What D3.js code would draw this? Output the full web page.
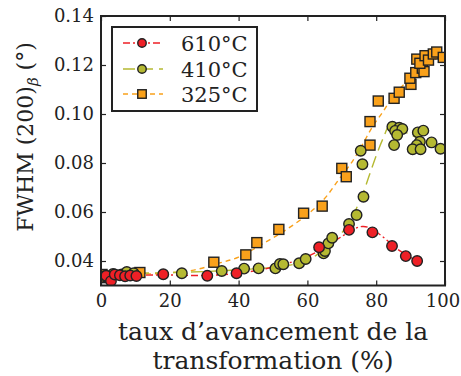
<!DOCTYPE html>
<html>
<head>
<meta charset="utf-8">
<script src="https://cdn.jsdelivr.net/npm/d3@7"></script>
<style>
  html, body { margin: 0; padding: 0; background: #fff; }
  svg { display: block; }
  text { font-family: "DejaVu Serif", "Liberation Serif", serif; fill: #222; }
</style>
</head>
<body>
<svg id="chart" width="461" height="376"></svg>
<script>
// ---- data ----
const xTicks = [0, 20, 40, 60, 80, 100];
const yTicks = [0.04, 0.06, 0.08, 0.10, 0.12, 0.14];
const seriesNames = ["610°C", "410°C", "325°C"];

// 610°C points
const x610 = [1.5, 2.9, 4.0, 5.5, 7.0, 8.5, 10.3, 18.1, 30.9, 39.4, 63.4, 72.1, 78.9, 84.6, 88.6, 91.9];
const y610 = [0.0340, 0.0318, 0.0345, 0.0342, 0.0338, 0.0341, 0.0339, 0.0346, 0.0340, 0.0350, 0.0456, 0.0527, 0.0517, 0.0461, 0.0420, 0.0400];
// 410°C points
const x410 = [1.0, 3.5, 6.0, 7.5, 9.5, 23.5, 35.1, 41.6, 45.8, 50.7, 52.0, 53.0, 57.6, 59.5, 64.7, 65.1, 66.1, 67.2, 72.1, 74.3, 76.3, 76.0, 75.5,
              84.7, 86.7, 85.5, 87.6, 86.1, 85.2, 92.1, 93.7, 92.7, 96.1, 91.8, 90.6, 92.9, 98.7];
const y410 = [0.0338, 0.0347, 0.0345, 0.0355, 0.0350, 0.0350, 0.0359, 0.0369, 0.0370, 0.0370, 0.0388, 0.0387, 0.0391, 0.0408, 0.0431, 0.0441, 0.0472, 0.0495, 0.0551, 0.0588, 0.0662, 0.0795, 0.0850,
              0.0948, 0.0944, 0.0931, 0.0939, 0.0914, 0.0873, 0.0925, 0.0932, 0.0887, 0.0884, 0.0873, 0.0856, 0.0856, 0.0858];
// 325°C points
const x325 = [0.3, 0.3, 11.3, 32.8, 42.1, 45.3, 51.7, 58.9, 64.3, 70.0, 71.3, 78.2, 78.2, 80.6, 85.2, 86.7, 90.1, 89.8, 91.5, 93.4, 93.9,
              91.8, 92.7, 94.2, 95.2, 96.6, 97.6, 99.5];
const y325 = [0.0345, 0.0332, 0.0353, 0.0395, 0.0425, 0.0475, 0.0529, 0.0595, 0.0624, 0.0778, 0.0744, 0.0873, 0.0969, 0.1053, 0.1064, 0.1089, 0.1121, 0.1146, 0.1169, 0.1187, 0.1173,
              0.1224, 0.1207, 0.1238, 0.1220, 0.1245, 0.1253, 0.1231];

// fitted guide curves
const fx610 = [0, 10, 20, 30, 40, 50, 60, 65, 70, 74, 76, 78, 82, 86, 90, 92];
const fy610 = [0.0342, 0.0342, 0.0343, 0.0341, 0.0350, 0.0375, 0.0418, 0.0455, 0.0500, 0.0533, 0.0541, 0.0536, 0.0498, 0.0450, 0.0415, 0.0398];
const fx410 = [0, 10, 20, 30, 40, 50, 55, 60, 63, 66, 70, 73, 76, 78, 80, 82, 84, 86, 90, 95, 100];
const fy410 = [0.0348, 0.0350, 0.0353, 0.0357, 0.0364, 0.0374, 0.0383, 0.0402, 0.0428, 0.0465, 0.0515, 0.0580, 0.0670, 0.0750, 0.0830, 0.0900, 0.0955, 0.0945, 0.0915, 0.0885, 0.0855];
const fx325 = [0, 10, 20, 27, 34, 40, 47, 53, 60, 65, 69, 73, 76, 79, 82, 85, 88, 91, 94, 97, 100];
const fy325 = [0.0343, 0.0345, 0.0352, 0.0363, 0.0390, 0.0416, 0.0470, 0.0520, 0.0590, 0.0655, 0.0730, 0.0805, 0.0875, 0.0950, 0.1010, 0.1075, 0.1120, 0.1160, 0.1195, 0.1222, 0.1240];

// ---- drawing ----
const svg = d3.select("#chart");
const L = 101, R = 445, T = 16, B = 285.5;
const x = d3.scaleLinear().domain([0, 100]).range([L, R]);
const y = d3.scaleLinear().domain([0.03, 0.14]).range([B, T]);

const colors = ["#ee2026", "#b5b932", "#f9a11b"];
const dashes = ["7,3,2,3", "12,6", "5,4"];
const shapes = ["circle", "circle", "square"];

const pts = [d3.zip(x610, y610), d3.zip(x410, y410), d3.zip(x325, y325)];
const fits = [d3.zip(fx610, fy610), d3.zip(fx410, fy410), d3.zip(fx325, fy325)];

svg.append("clipPath").attr("id", "clip")
  .append("rect").attr("x", L).attr("y", T).attr("width", R - L).attr("height", B - T);

const plot = svg.append("g").attr("clip-path", "url(#clip)");
const line = d3.line().x(d => x(d[0])).y(d => y(d[1])).curve(d3.curveCatmullRom.alpha(0.5));

function drawMarker(g, shape, cx, cy, color, size) {
  if (shape === "circle") {
    g.append("circle").attr("cx", cx).attr("cy", cy).attr("r", size / 2)
      .attr("fill", color).attr("stroke", "#222").attr("stroke-width", 1.4);
  } else {
    g.append("rect").attr("x", cx - size / 2).attr("y", cy - size / 2)
      .attr("width", size).attr("height", size)
      .attr("fill", color).attr("stroke", "#222").attr("stroke-width", 1.4);
  }
}

[2, 1, 0].forEach(i => {
  plot.append("path").datum(fits[i]).attr("d", line)
    .attr("fill", "none").attr("stroke", colors[i]).attr("stroke-width", 1.4)
    .attr("stroke-dasharray", dashes[i]);
});
[2, 1, 0].forEach(i => {
  const g = plot.append("g");
  pts[i].forEach(p => drawMarker(g, shapes[i], x(p[0]), y(p[1]), colors[i], shapes[i] === "square" ? 10 : 10.5));
});

// frame
svg.append("rect").attr("x", L).attr("y", T).attr("width", R - L).attr("height", B - T)
  .attr("fill", "none").attr("stroke", "#222").attr("stroke-width", 2);

// ticks (inward, all sides)
const tk = 5;
const axB = svg.append("g").attr("transform", `translate(0,${B})`)
  .call(d3.axisBottom(x).tickValues(xTicks).tickSize(-tk).tickPadding(9).tickFormat(d3.format("d")));
const axT = svg.append("g").attr("transform", `translate(0,${T})`)
  .call(d3.axisTop(x).tickValues(xTicks).tickSize(-tk).tickFormat(""));
const axL = svg.append("g").attr("transform", `translate(${L},0)`)
  .call(d3.axisLeft(y).tickValues(yTicks).tickSize(-tk).tickPadding(7).tickFormat(d3.format(".2f")));
const axR = svg.append("g").attr("transform", `translate(${R},0)`)
  .call(d3.axisRight(y).tickValues(yTicks).tickSize(-tk).tickFormat(""));
[axB, axT, axL, axR].forEach(a => {
  a.select(".domain").remove();
  a.selectAll(".tick line").attr("stroke", "#222").attr("stroke-width", 1.2);
  a.selectAll("text").attr("font-family", "DejaVu Serif").attr("font-size", 18).attr("fill", "#222");
});
// keep the last x label inside the window
axB.selectAll(".tick text").filter(d => d === 100).attr("dx", -2.5);

// axis labels
svg.append("text").attr("x", 273).attr("y", 340).attr("text-anchor", "middle")
  .attr("font-size", 25).text("taux d’avancement de la");
svg.append("text").attr("x", 273).attr("y", 369).attr("text-anchor", "middle")
  .attr("font-size", 25).text("transformation (%)");

const yl = svg.append("text").attr("transform", "translate(33,137) rotate(-90)")
  .attr("text-anchor", "middle").attr("font-size", 22);
yl.append("tspan").text("FWHM (200)");
yl.append("tspan").attr("font-size", 15).attr("font-style", "italic").attr("dy", 5).text("β");
yl.append("tspan").attr("dy", -5).text(" (°)");

// legend
const lg = svg.append("g");
lg.append("rect").attr("x", 112).attr("y", 27).attr("width", 145).attr("height", 84)
  .attr("fill", "#fff").attr("stroke", "#222").attr("stroke-width", 2);
const rowsY = [43, 69, 94];
[0, 1, 2].forEach(i => {
  lg.append("line").attr("x1", 123).attr("x2", 163).attr("y1", rowsY[i]).attr("y2", rowsY[i])
    .attr("stroke", colors[i]).attr("stroke-width", 1.4).attr("stroke-dasharray", dashes[i]);
  drawMarker(lg, shapes[i], 142, rowsY[i], colors[i], 8.5);
  lg.append("text").attr("x", 181).attr("y", rowsY[i] + 8).attr("font-size", 21).text(seriesNames[i]);
});
</script>
</body>
</html>
